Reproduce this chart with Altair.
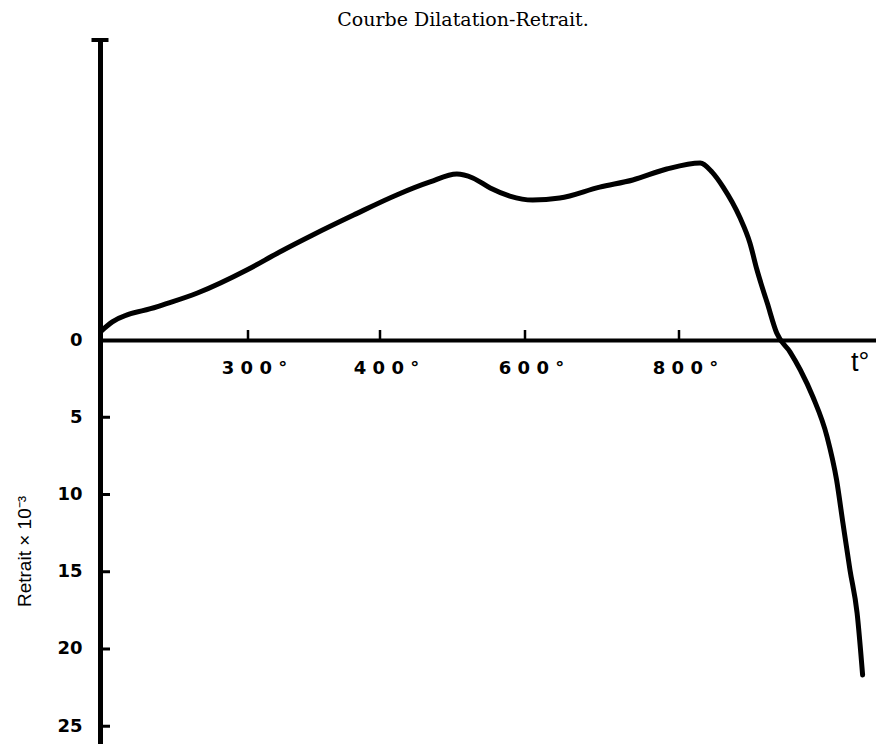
import altair as alt
import pandas as pd

# ---- data ----
temp = [181, 190, 226, 259, 299, 324, 349, 380, 423, 469, 506, 528, 552, 579,
        610, 645, 697, 740, 784, 827, 842, 856, 877, 890, 899, 912, 924, 941,
        954, 970, 988, 1000, 1008, 1017, 1026, 1033]
retrait = [-0.58, -1.17, -2.14, -3.04, -4.53, -5.70, -6.80, -8.09, -9.39, -10.23,
           -10.74, -10.49, -9.84, -9.32, -9.06, -9.19, -9.90, -10.36, -11.07,
           -11.46, -10.87, -9.90, -7.96, -6.28, -4.53, -2.39, -0.45, 0.78, 1.94,
           3.69, 6.28, 9.06, 11.84, 14.89, 17.67, 21.68]

x_tick_values = [300, 400, 600, 800]
x_tick_labels = ["300°", "400°", "600°", "800°"]
y_tick_values = [5, 10, 15, 20, 25]
y_label_values = [0, 5, 10, 15, 20, 25]
t_label = "t°"
t_label_pos = 1030
t_label_y = 1.5

# ---- scales (hand-drawn, uneven temperature axis) ----
x_domain = [180, 300, 400, 600, 800, 1050]
x_range = [0, 148, 280, 425, 579, 776]
y_top, y_bottom = -19.42, 26.15

W, H = 776, 704
xs = alt.Scale(domain=x_domain, range=x_range, nice=False, zero=False)
ys = alt.Scale(domain=[y_top, y_bottom], reverse=True, nice=False, zero=False)

curve = pd.DataFrame({"t": temp, "r": retrait})
xt = pd.DataFrame({"t": x_tick_values})
yt = pd.DataFrame({"r": y_tick_values})

label_map = " : ".join(
    f"datum.value == {v} ? '{' '.join(list(l))}'" for v, l in zip(x_tick_values, x_tick_labels)
) + " : ''"

line = alt.Chart(curve).mark_line(
    color="black", strokeWidth=5, strokeCap="round", strokeJoin="round",
    interpolate="monotone"
).encode(
    x=alt.X("t:Q", scale=xs, axis=alt.Axis(
        title=None, orient="bottom", offset=300 - H, values=x_tick_values,
        labelExpr=label_map, ticks=False, domain=True, domainWidth=4,
        domainColor="black", grid=False, labelFont="DejaVu Sans",
        labelFontWeight="bold", labelFontSize=18, labelColor="black",
        labelPadding=19, labelOffset=6, labelFlush=False, labelOverlap=False)),
    y=alt.Y("r:Q", scale=ys, axis=alt.Axis(
        title="Retrait × 10⁻³", orient="left", values=y_label_values,
        ticks=False, domain=True, domainWidth=5, domainColor="black",
        grid=False, labelFont="DejaVu Sans", labelFontWeight="bold",
        labelFontSize=18, labelColor="black", labelPadding=18,
        labelFlush=False, labelOverlap=False,
        titleFont="Liberation Sans", titleFontSize=19, titleFontWeight="normal",
        titleColor="black", titleX=-76, titleY=511, titleAngle=-90,
        titleBaseline="middle", titleAlign="center")),
)

xticks = alt.Chart(xt).mark_tick(
    orient="vertical", size=10, thickness=2.5, yOffset=-5, color="black", opacity=1
).encode(x=alt.X("t:Q", scale=xs), y=alt.datum(0, scale=ys))

yticks = alt.Chart(yt).mark_tick(
    orient="horizontal", size=10, thickness=3, xOffset=5, color="black", opacity=1
).encode(y=alt.Y("r:Q", scale=ys), x=alt.datum(x_domain[0], scale=xs))

cap = alt.Chart(pd.DataFrame({"a": [0]})).mark_tick(
    orient="horizontal", size=17, thickness=4, color="black", opacity=1
).encode(x=alt.datum(x_domain[0], scale=xs), y=alt.datum(y_top, scale=ys))

tlab = alt.Chart(pd.DataFrame({"a": [0]})).mark_text(
    text=t_label, font="Liberation Sans", fontSize=27, color="black",
    align="center", baseline="middle"
).encode(x=alt.datum(t_label_pos, scale=xs), y=alt.datum(t_label_y, scale=ys))

chart = alt.layer(line, xticks, yticks, cap, tlab).properties(
    width=W, height=H, background="white",
    title=alt.TitleParams("Courbe Dilatation-Retrait.", font="DejaVu Serif",
                          fontSize=19, fontWeight="normal", color="black",
                          anchor="middle", dx=-25, offset=8),
    autosize=alt.AutoSizeParams(type="none"),
    padding={"left": 92, "top": 32, "right": 0, "bottom": 0},
).configure_view(strokeWidth=0, strokeOpacity=0)

chart.save("out.html", embed_options={"renderer": "svg", "actions": False})
